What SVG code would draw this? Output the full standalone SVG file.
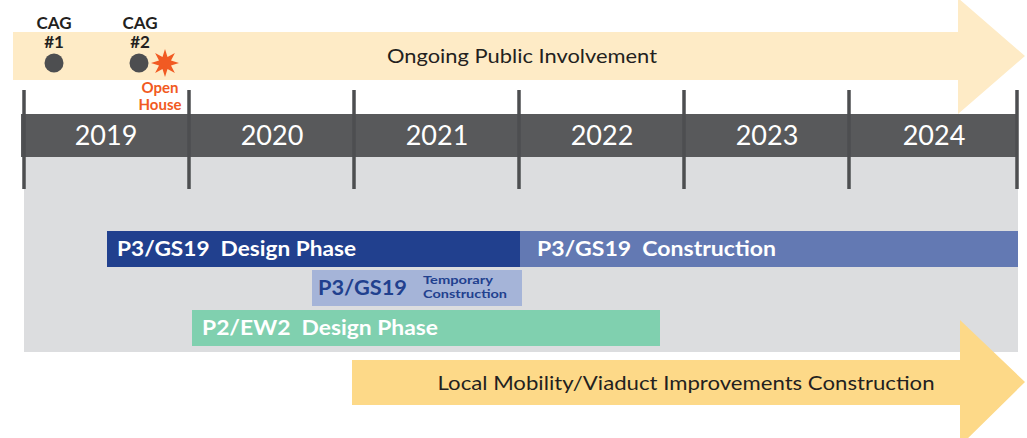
<svg xmlns="http://www.w3.org/2000/svg" width="1027" height="438" viewBox="0 0 1027 438">
<style>
text{font-family:Lato,"Liberation Sans",sans-serif;white-space:pre}
.yr{fill:#fff;font-size:27px;text-anchor:middle}
.bar{font-weight:bold;font-size:20px;fill:#fff}
.cag{font-weight:bold;font-size:17px;fill:#231F20;text-anchor:middle}
.oh{font-weight:bold;font-size:15px;fill:#F15A22;text-anchor:middle}
.tick{stroke:#4D4E50;stroke-width:3.5}
</style>
<rect width="1027" height="438" fill="#fff"/>
<g id="public-involvement">
<polygon points="13,32 958,32 958,-2 1025,56 958,114 958,80 13,80" fill="#FEEBC6"/>
<text x="522" y="63" font-size="20" fill="#231F20" text-anchor="middle" textLength="270" lengthAdjust="spacingAndGlyphs">Ongoing Public Involvement</text>
</g>
<g id="background">
<rect x="24" y="157" width="994" height="195" fill="#DCDDDF"/>
</g>
<g id="timeline">
<rect x="21" y="114" width="997" height="43" fill="#58595B"/>
<text class="yr" x="106" y="145">2019</text>
<text class="yr" x="272" y="145">2020</text>
<text class="yr" x="437" y="145">2021</text>
<text class="yr" x="602" y="145">2022</text>
<text class="yr" x="767" y="145">2023</text>
<text class="yr" x="934" y="145">2024</text>
</g>
<g id="connectors">
<line class="tick" x1="24" y1="90" x2="24" y2="189"/>
<line class="tick" x1="189" y1="90" x2="189" y2="189"/>
<line class="tick" x1="354" y1="90" x2="354" y2="189"/>
<line class="tick" x1="519" y1="90" x2="519" y2="189"/>
<line class="tick" x1="684" y1="90" x2="684" y2="189"/>
<line class="tick" x1="849" y1="90" x2="849" y2="189"/>
<line class="tick" x1="1017" y1="90" x2="1017" y2="189"/>
</g>
<g id="cag1">
<text class="cag" x="54" y="29">CAG</text>
<text class="cag" x="54" y="48">#1</text>
<circle cx="54" cy="63" r="9.5" fill="#4D4E50"/>
</g>
<g id="cag2">
<text class="cag" x="140" y="29">CAG</text>
<text class="cag" x="140" y="48">#2</text>
<circle cx="139" cy="63" r="9.5" fill="#4D4E50"/>
</g>
<g id="open-house">
<polygon fill="#F15A22" points="165,49 167.5,57 174.9,53.1 171,60.5 179,63 171,65.5 174.9,72.9 167.5,69 165,77 162.5,69 155.1,72.9 159,65.5 151,63 159,60.5 155.1,53.1 162.5,57"/>
<text class="oh" x="160" y="93">Open</text>
<text class="oh" x="160" y="110">House</text>
</g>
<g id="p3-design">
<rect x="107" y="231" width="413" height="36" fill="#21408E"/>
<text class="bar" x="117" y="256" xml:space="preserve" textLength="239" lengthAdjust="spacingAndGlyphs">P3/GS19  Design Phase</text>
</g>
<g id="p3-construction">
<rect x="520" y="231" width="498" height="36" fill="#6379B3"/>
<text class="bar" x="537" y="256" xml:space="preserve" textLength="239" lengthAdjust="spacingAndGlyphs">P3/GS19  Construction</text>
</g>
<g id="p3-temporary">
<rect x="312" y="270" width="210" height="36" fill="#A5B4D8"/>
<text x="318" y="295" font-size="20" font-weight="bold" fill="#21408E" textLength="89" lengthAdjust="spacingAndGlyphs">P3/GS19</text>
<text x="423" y="284" font-size="12" font-weight="bold" fill="#21408E" textLength="70" lengthAdjust="spacingAndGlyphs">Temporary</text>
<text x="423" y="298" font-size="12" font-weight="bold" fill="#21408E" textLength="84" lengthAdjust="spacingAndGlyphs">Construction</text>
</g>
<g id="p2-design">
<rect x="192" y="310" width="468" height="36" fill="#80D0AF"/>
<text class="bar" x="202" y="335" xml:space="preserve" textLength="236" lengthAdjust="spacingAndGlyphs">P2/EW2  Design Phase</text>
</g>
<g id="local-mobility">
<polygon points="352,360 960,360 960,320 1025,382 960,446 960,405 352,405" fill="#FDD988"/>
<text x="686" y="390" font-size="20" fill="#231F20" text-anchor="middle" textLength="497" lengthAdjust="spacingAndGlyphs">Local Mobility/Viaduct Improvements Construction</text>
</g>
</svg>
